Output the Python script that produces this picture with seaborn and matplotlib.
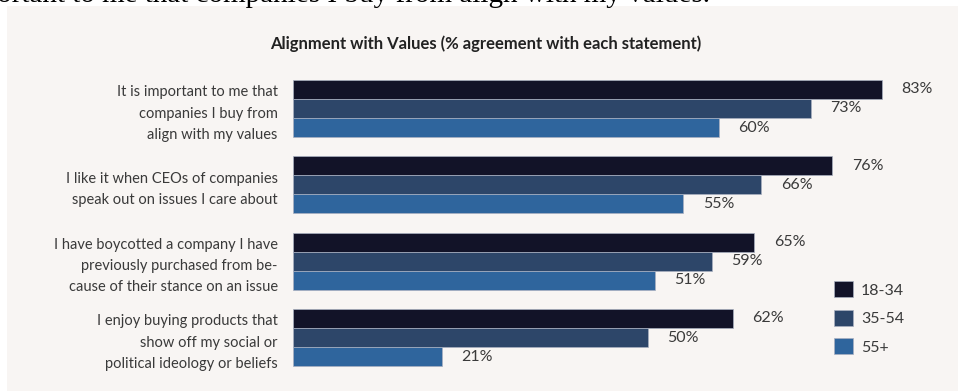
import matplotlib
matplotlib.use("Agg")
import matplotlib.pyplot as plt
import seaborn as sns
import pandas as pd
from matplotlib.patches import Rectangle

statements = [
    "It is important to me that\ncompanies I buy from\nalign with my values",
    "I like it when CEOs of companies\nspeak out on issues I care about",
    "I have boycotted a company I have\npreviously purchased from be-\ncause of their stance on an issue",
    "I enjoy buying products that\nshow off my social or\npolitical ideology or beliefs",
]
age_groups = ["18-34", "35-54", "55+"]
vals_18_34 = [83, 76, 65, 62]
vals_35_54 = [73, 66, 59, 50]
vals_55_plus = [60, 55, 51, 21]
colors = ["#121328", "#2d4669", "#2f659d"]

rows = []
for grp, vals in zip(age_groups, [vals_18_34, vals_35_54, vals_55_plus]):
    for s, v in zip(statements, vals):
        rows.append({"statement": s, "age": grp, "value": v})
df = pd.DataFrame(rows)

sns.set_theme(style="white")
plt.rcParams["font.family"] = ["Lato", "DejaVu Sans"]

W, H = 958, 391
fig = plt.figure(figsize=(W / 100, H / 100), dpi=100)
fig.patch.set_facecolor("white")
panel_col = "#f8f5f3"
fig.add_artist(Rectangle((7 / W, 0), 1 - 7 / W, 1 - 6 / H, transform=fig.transFigure,
                         facecolor=panel_col, edgecolor="none", zorder=0))

# clipped sentence at the very top (from the surrounding page)
fig.text(710 / W, 1 - 2.5 / H, "important to me that companies I buy from align with my values.",
         ha="right", va="baseline", fontsize=21, family="Liberation Serif", color="black")

px_per_pct = (882 - 293) / 83
left = 293 / W
ax_w_px = W - 293
top_px = 108.5 - 38.17
bot_px = 337.5 + 38.17
ax = fig.add_axes([left, 1 - bot_px / H, ax_w_px / W, (bot_px - top_px) / H])
ax.set_facecolor("none")

sns.barplot(data=df, y="statement", x="value", hue="age", hue_order=age_groups,
            palette=colors, orient="h", width=0.75, ax=ax, saturation=1,
            edgecolor="#a9b0c0", linewidth=0.5, legend=True)

ax.set_xlim(0, ax_w_px / px_per_pct)
ax.set_ylim(3.5, -0.5)
for c in ax.containers:
    ax.bar_label(c, fmt="%d%%", padding=14, fontsize=11.5, color="#3a3a3a")

ax.set_xlabel("")
ax.set_ylabel("")
ax.set_xticks([])
ax.tick_params(axis="y", length=0, pad=11)
for lab in ax.get_yticklabels():
    lab.set_fontsize(10.5)
    lab.set_color("#3a3a3a")
    lab.set_linespacing(1.65)
for sp in ax.spines.values():
    sp.set_visible(False)

handles, labels = ax.get_legend_handles_labels()
ax.legend(handles, labels, loc="upper left", bbox_to_anchor=(834 / W, 1 - 281 / H),
          bbox_transform=fig.transFigure, frameon=False, fontsize=11.5,
          handlelength=1.2, handleheight=1.2, handletextpad=0.5,
          labelspacing=0.75, borderpad=0, borderaxespad=0,
          labelcolor="#3a3a3a")

fig.text(486 / W, 1 - 44 / H, "Alignment with Values (% agreement with each statement)",
         ha="center", va="center", fontsize=12, fontweight="bold", color="#222222")

fig.savefig("out.png", dpi=100, facecolor=fig.get_facecolor())
